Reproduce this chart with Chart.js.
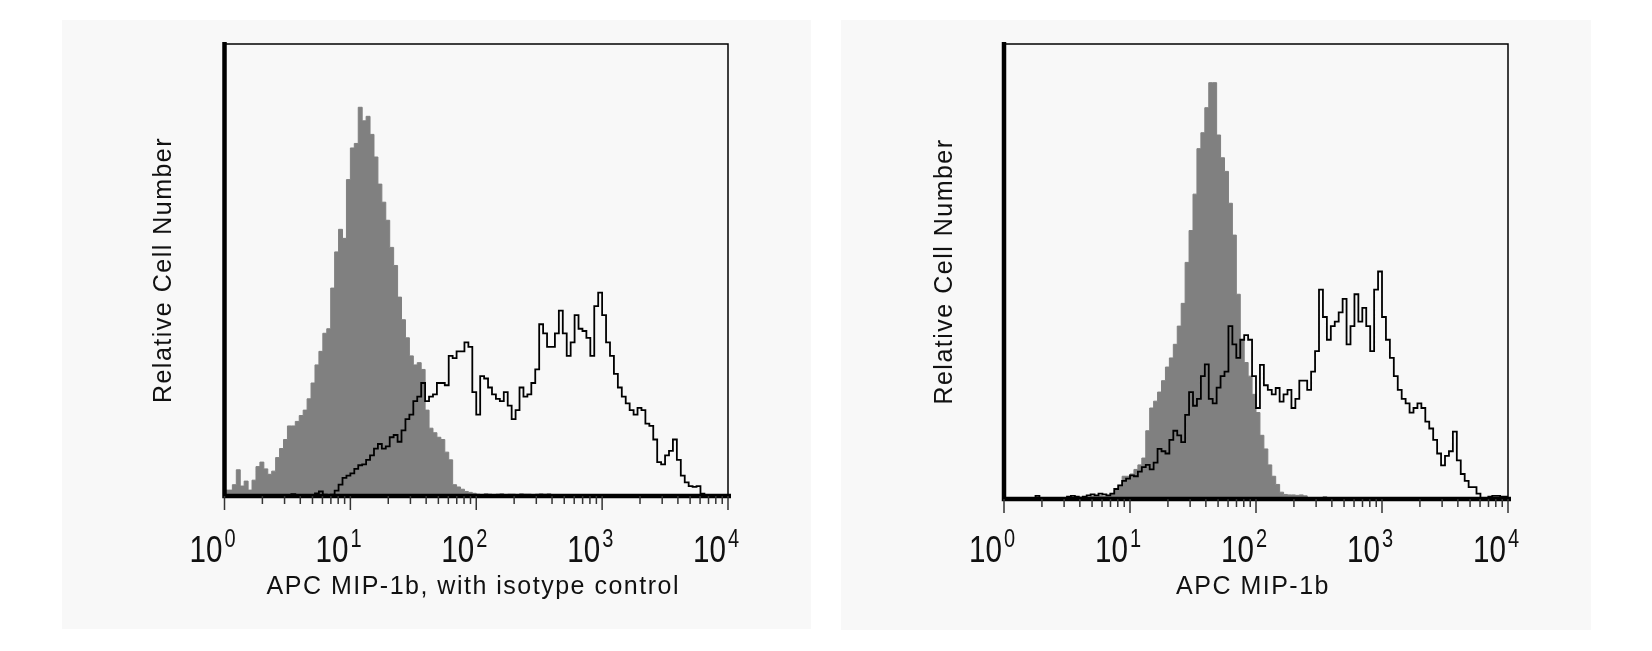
<!DOCTYPE html>
<html>
<head>
<meta charset="utf-8">
<title>APC MIP-1b histograms</title>
<script src="https://cdn.jsdelivr.net/npm/chart.js@4.4.1/dist/chart.umd.min.js"></script>
<style>
  html, body { margin: 0; padding: 0; background: #ffffff; }
  body { width: 1652px; height: 651px; position: relative; overflow: hidden; }
  .panel { position: absolute; background: #f8f8f8; }
  .panel canvas { display: block; }
  #panelLeft { left: 62px; top: 20px; width: 749px; height: 609px; }
  #panelRight { left: 841px; top: 20px; width: 750px; height: 610px; }
</style>
</head>
<body>
<div class="panel" id="panelLeft"><canvas id="chartLeft" width="749" height="609"></canvas></div>
<div class="panel" id="panelRight"><canvas id="chartRight" width="750" height="610"></canvas></div>
<script>
// histogram channels: 32 per decade, 10^0 .. 10^4 (128 channels)
const binsPerDecade = 32;
const decadeExponents = [0, 1, 2, 3, 4];
const minorFactors = [2, 3, 4, 5, 6, 7, 8, 9];

const yTitle = "Relative Cell Number";
const leftXTitle = "APC MIP-1b, with isotype control";
const rightXTitle = "APC MIP-1b";

// relative cell number, % of plot height
const leftIsotype = [
  1.3, 1.3, 1.3, 2.5, 5.8, 2.2, 3.3, 1.3, 3.5, 6.5,
  7.5, 6, 4.8, 5.5, 8.5, 10.5, 12.5, 15.5, 15.5, 16.5,
  17.8, 19, 21.5, 25, 29, 32, 36, 37, 46, 54,
  59, 57, 70, 77, 78, 86, 83, 84, 80, 75,
  69, 65, 61, 55, 51, 44, 39, 35, 31, 29,
  29.5, 28, 19, 15, 14, 13, 12.5, 9.7, 8, 2.5,
  2, 1.5, 1, 0.8, 0.6, 0.4, 0.3, 0.5, 0.4, 0.3,
  0.4, 0.5, 0.3, 0.4, 0.4, 0.3, 0.5, 0.4, 0.4, 0.3,
  0.4, 0.5, 0.4, 0.5, 0, 0, 0, 0, 0, 0,
  0, 0, 0, 0, 0, 0, 0, 0, 0, 0,
  0, 0, 0, 0, 0, 0, 0, 0, 0, 0,
  0, 0, 0, 0, 0, 0, 0, 0, 0, 0,
  0, 0, 0, 0, 0, 0, 0, 0
];
const leftStained = [
  0, 0, 0, 0, 0, 0, 0, 0, 0, 0,
  0, 0, 0, 0, 0, 0, 0, 0, 0.4, 0,
  0, 0, 0, 0, 0.6, 1, 0.3, 0, 0.3, 1.2,
  2.5, 4, 4.5, 5, 6, 6.8, 7, 8, 9, 10.5,
  11.5, 10.5, 11, 13, 13.5, 12, 14.5, 17, 18, 21,
  22, 25, 21, 22, 22.5, 25, 25, 24.5, 31, 30.5,
  32, 32, 34, 33, 23, 18, 26.5, 26, 24, 22.5,
  21.5, 21, 23, 20, 17, 19, 24, 22, 22.5, 25,
  28, 38, 36, 33, 33, 36, 41, 36, 31, 34,
  40, 37, 36.5, 35, 31, 42, 45, 40, 34, 31,
  27, 24, 22, 20.5, 19, 18, 19.5, 19, 16, 15.5,
  12.5, 7.5, 7, 9, 10, 12.5, 8, 4.5, 3, 2.2,
  2, 2.2, 0.5, 0, 0, 0, 0, 0
];
const rightIsotype = [
  0, 0, 0, 0, 0, 0, 0, 0, 0, 0,
  0, 0, 0, 0, 0, 0, 0, 0, 0, 0,
  0.3, 0.5, 0.4, 0.6, 0.5, 0.7, 0.6, 0.8, 1, 2,
  3, 5, 5, 5.5, 6.5, 7.5, 9, 15, 20, 21.5,
  23.5, 26, 29, 31, 34, 38, 43, 52, 59, 67,
  77, 80.5, 86, 91.5, 91.5, 80, 75, 72, 65, 58,
  45, 35, 30, 27, 23, 19, 14, 11, 7.5, 5,
  3.2, 1.5, 1, 0.9, 0.9, 0.8, 0.9, 0.7, 0.2, 0.2,
  0.2, 0.2, 0.5, 0, 0, 0, 0, 0, 0, 0,
  0, 0, 0, 0, 0, 0, 0, 0, 0, 0,
  0, 0, 0, 0, 0, 0, 0, 0, 0, 0,
  0, 0, 0, 0, 0, 0, 0, 0, 0, 0,
  0, 0, 0, 0, 0, 0, 0, 0
];
const rightStained = [
  0, 0, 0, 0, 0, 0, 0, 0, 0, 0.7,
  0, 0, 0, 0, 0, 0, 0, 0.5, 0.7, 0.5,
  0.3, 0.5, 0.8, 1, 0.8, 1.2, 1, 0.8, 1.2, 2.2,
  3, 4, 4.5, 5.2, 5, 6, 7, 7.5, 6.5, 8,
  11, 10.5, 10, 13, 15, 14, 12.5, 18.5, 23.5, 20.5,
  22, 27, 29.6, 22, 21, 24.5, 27, 28, 38, 34,
  31, 35, 36, 35, 27, 20, 29.5, 25, 24, 23,
  24.4, 21.4, 23, 24, 20, 22, 26, 26, 24, 28,
  32.5, 46, 40, 35, 38, 39, 41, 44, 34, 38,
  45, 39, 42, 38, 32.5, 46, 50, 40, 35, 31,
  27, 24, 22, 21, 19, 20, 21, 20, 17, 15.5,
  13, 10, 7.4, 9.5, 10.5, 14.8, 8.5, 5.5, 4, 2.6,
  2.6, 1.2, 0, 0, 0.5, 0.7, 0.7, 0.5
];

function toPoints(values) {
  const pts = values.map((v, i) => ({ x: Math.pow(10, i / binsPerDecade), y: v }));
  pts.push({ x: Math.pow(10, values.length / binsPerDecade), y: values[values.length - 1] });
  return pts;
}

const facsFrame = {
  id: "facsFrame",
  afterDatasetsDraw(chart, args, opts) {
    const { ctx, chartArea: a } = chart;
    const xs = chart.scales.x;
    ctx.save();

    // box: thin top/right, heavy left/bottom
    ctx.strokeStyle = "#000";
    ctx.lineWidth = 1.5;
    ctx.beginPath();
    ctx.moveTo(a.left, a.top);
    ctx.lineTo(a.right, a.top);
    ctx.lineTo(a.right, a.bottom);
    ctx.stroke();
    ctx.lineWidth = 4.5;
    ctx.beginPath();
    ctx.moveTo(a.left, a.top - 2);
    ctx.lineTo(a.left, a.bottom);
    ctx.lineTo(a.right + 3, a.bottom);
    ctx.stroke();

    // tick marks
    ctx.strokeStyle = "#333";
    ctx.lineWidth = 1.5;
    decadeExponents.forEach((e) => {
      const px = xs.getPixelForValue(Math.pow(10, e));
      ctx.beginPath();
      ctx.moveTo(px, a.bottom);
      ctx.lineTo(px, a.bottom + 14);
      ctx.stroke();
      if (e === 4) return;
      minorFactors.forEach((f) => {
        const mx = xs.getPixelForValue(f * Math.pow(10, e));
        ctx.beginPath();
        ctx.moveTo(mx, a.bottom);
        ctx.lineTo(mx, a.bottom + 8);
        ctx.stroke();
      });
    });

    // tick labels 10^n
    ctx.fillStyle = "#111";
    decadeExponents.forEach((e) => {
      const px = xs.getPixelForValue(Math.pow(10, e));
      ctx.save();
      ctx.translate(px - 2, opts.labelBase);
      ctx.scale(0.8, 1);
      ctx.font = "37px 'Liberation Sans', Arial, sans-serif";
      ctx.textAlign = "right";
      ctx.textBaseline = "alphabetic";
      ctx.fillText("10", 0, 0);
      ctx.restore();
      ctx.save();
      ctx.translate(px, opts.labelBase - 15);
      ctx.scale(0.8, 1);
      ctx.font = "25px 'Liberation Sans', Arial, sans-serif";
      ctx.textAlign = "left";
      ctx.fillText(String(e), 0, 0);
      ctx.restore();
    });

    // axis titles
    ctx.font = "25px 'Liberation Sans', Arial, sans-serif";
    ctx.letterSpacing = "1.5px";
    ctx.textAlign = "center";
    ctx.textBaseline = "alphabetic";
    ctx.fillText(opts.xTitle, (a.left + a.right) / 2 - 3, opts.titleBase);
    ctx.save();
    ctx.translate(a.left - opts.yTitleGap, (a.top + a.bottom) / 2);
    ctx.rotate(-Math.PI / 2);
    ctx.fillText(yTitle, 0, 0);
    ctx.restore();

    ctx.restore();
  }
};

function makeChart(id, isotype, stained, xTitle, padding, yTitleGap) {
  return new Chart(document.getElementById(id), {
    type: "line",
    data: {
      datasets: [
        {
          label: "stained",
          data: toPoints(stained),
          stepped: "after",
          borderColor: "#000000",
          borderWidth: 1.8,
          pointRadius: 0,
          fill: false,
          order: 0
        },
        {
          label: "isotype control",
          data: toPoints(isotype),
          stepped: "after",
          borderColor: "#808080",
          borderWidth: 1,
          backgroundColor: "#808080",
          pointRadius: 0,
          fill: "origin",
          order: 1
        }
      ]
    },
    options: {
      responsive: false,
      animation: false,
      devicePixelRatio: 1,
      layout: { padding },
      scales: {
        x: { type: "logarithmic", min: 1, max: 10000, display: false },
        y: { type: "linear", min: 0, max: 100, display: false }
      },
      plugins: {
        legend: { display: false },
        tooltip: { enabled: false },
        facsFrame: { xTitle, labelBase: 542, titleBase: 574, yTitleGap }
      }
    },
    plugins: [facsFrame]
  });
}

makeChart("chartLeft", leftIsotype, leftStained, leftXTitle,
  { left: 162.5, right: 83, top: 24, bottom: 133 }, 54);
makeChart("chartRight", rightIsotype, rightStained, rightXTitle,
  { left: 163, right: 83, top: 24, bottom: 131 }, 52);
</script>
</body>
</html>
